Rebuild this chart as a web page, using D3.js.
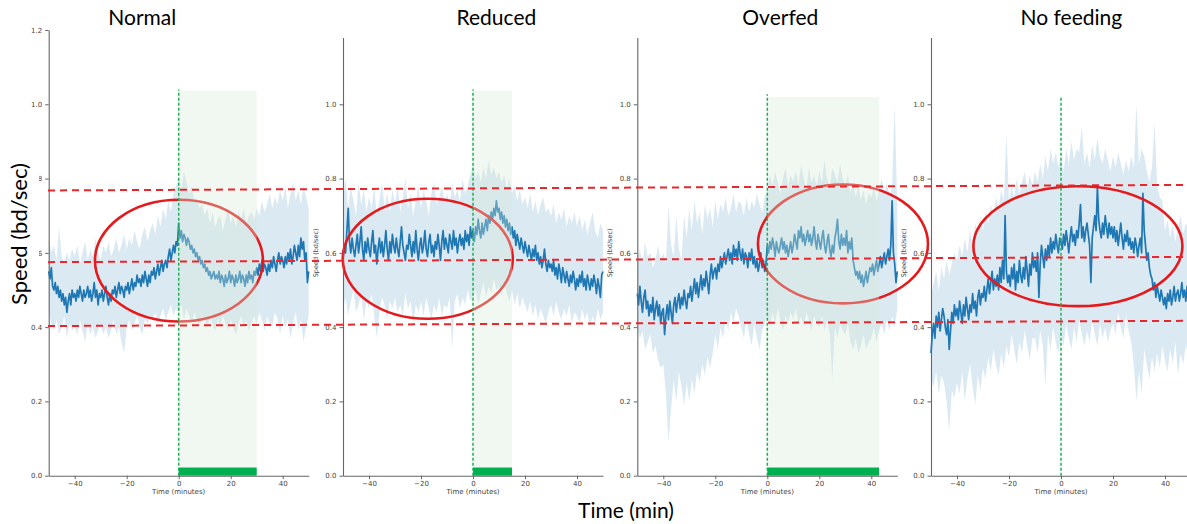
<!DOCTYPE html>
<html>
<head>
<meta charset="utf-8">
<script src="https://cdn.jsdelivr.net/npm/d3@7"></script>
<style>
body { margin: 0; background: #fff; }
svg { display: block; }
</style>
</head>
<body>
<svg id="chart" width="1187" height="524"></svg>
<script>
// panel titles and axis ticks
var panelTitles = ['Normal', 'Reduced', 'Overfed', 'No feeding'];
var titleAtT = [-14, 9, 5, 4];
var xTicks = [-40, -20, 0, 20, 40];
var yTicks = [0, 0.2, 0.4, 0.6, 0.8, 1.0, 1.2];

// time grid: mean every 0.5 min, band every 1 min, both from -50 min
var timeStart = -50;
var meanStep = 0.5;
var bandStep = 1;

// speed values in hundredths of bd/sec
var meanNormal = [
  55,53,56,51,50,52,49,51,48,50, 47,49,46,48,44,47,49,46,50,48,
  49,47,50,48,51,49,47,50,48,49, 51,48,50,47,49,52,48,50,46,49,
  48,50,47,49,51,48,46,49,47,50, 49,51,48,50,52,49,51,50,48,51,
  50,52,49,51,53,50,52,51,54,52, 53,51,54,52,55,53,51,54,52,55,
  54,56,53,55,57,54,56,58,55,57, 58,56,59,61,58,60,62,60,63,62,
  68,64,66,63,65,64,62,64,63,61, 62,60,61,59,60,58,59,57,58,56,
  57,55,56,54,55,53,54,55,53,54, 53,55,52,54,53,51,54,52,53,55,
  52,54,53,51,54,52,53,55,52,54, 53,51,54,52,55,53,54,52,55,54,
  56,54,57,55,58,55,57,56,54,57, 55,58,56,59,57,55,58,60,57,59,
  58,56,59,57,60,58,61,57,59,62, 60,58,62,59,64,61,63,58,60,52,
  55];
var hiNormal = [
  64,60,62,58,67,59,57,60,58,61, 59,62,57,60,63,58,61,59,64,60,
  58,62,60,63,59,61,64,60,62,65, 61,64,62,66,63,61,65,67,63,66,
  68,65,70,67,72,69,74,71,76,78, 80,77,82,79,76,78,74,75,72,73,
  70,72,68,71,67,69,70,66,69,72, 68,70,67,71,69,72,68,70,71,69,
  72,70,74,71,73,76,72,75,73,77, 74,78,72,76,79,74,77,73,78,75,
  72];
var loNormal = [
  44,41,39,42,38,40,43,37,41,39, 40,38,42,39,36,41,38,40,37,39,
  41,38,40,37,39,42,38,40,36,33, 40,42,39,41,43,40,38,42,41,43,
  42,44,41,43,45,42,44,46,43,45, 44,46,42,45,43,41,44,42,40,43,
  42,40,43,41,39,42,40,43,41,39, 42,40,38,41,43,40,42,39,41,43,
  41,44,42,39,43,41,40,44,42,38, 43,40,42,37,41,44,39,42,36,40,
  43];

var meanReduced = [
  58,62,60,66,72,63,60,64,61,59, 62,65,60,63,67,61,58,63,60,64,
  61,59,63,66,60,62,57,61,64,60, 63,59,62,66,61,58,63,60,65,62,
  60,64,61,59,63,67,62,60,58,62, 61,65,62,59,63,60,66,61,58,62,
  64,60,62,66,61,59,63,65,60,62, 59,63,61,65,62,58,63,66,61,64,
  62,60,65,63,61,66,62,64,60,63, 65,62,64,61,66,63,65,62,67,64,
  66,63,67,65,69,66,64,68,65,67, 69,66,70,68,71,69,72,70,74,71,
  72,69,71,68,70,67,69,66,68,65, 67,64,66,62,65,63,61,64,62,60,
  63,61,59,62,60,58,61,59,62,58, 60,57,59,56,58,61,57,55,58,56,
  57,55,58,54,56,53,57,55,52,56, 54,52,55,53,51,54,52,55,53,50,
  53,51,54,52,55,51,53,50,54,52, 50,53,51,54,52,49,53,51,48,54,
  55];
var hiReduced = [
  76,80,72,78,74,70,79,73,77,71, 75,72,78,70,74,79,72,76,71,77,
  73,78,71,75,80,72,76,70,74,78, 72,77,74,70,76,79,73,75,78,74,
  76,73,79,75,77,74,80,76,78,81, 84,80,82,79,83,80,85,81,83,80,
  82,79,81,77,80,76,78,74,77,73, 75,72,76,71,74,70,73,75,71,72,
  70,73,68,71,69,72,67,70,68,71, 67,70,66,69,65,68,71,66,64,68,
  66];
var loReduced = [
  45,48,43,47,50,44,46,49,42,47, 45,49,43,37,44,48,46,42,47,45,
  48,44,46,43,49,45,47,41,46,44, 47,43,48,45,42,46,44,48,43,46,
  45,48,34,47,49,45,48,46,50,47, 48,50,46,49,52,48,51,49,53,50,
  51,48,52,49,47,50,46,49,45,48, 46,44,47,43,46,42,45,43,41,44,
  46,43,47,44,42,45,43,46,41,44, 43,41,45,42,44,40,43,41,45,42,
  44];

var meanOverfed = [
  49,46,51,47,44,48,50,45,47,43, 46,44,48,42,45,47,43,46,41,44,
  45,38,43,46,42,47,44,41,46,48, 44,47,49,45,48,46,50,47,45,49,
  48,51,47,50,53,49,52,48,51,54, 50,53,51,55,52,49,54,57,53,55,
  56,53,57,55,59,56,58,60,57,59, 61,58,60,57,62,59,61,58,63,60,
  58,61,57,60,59,56,60,58,61,57, 59,56,58,55,57,60,56,58,55,57,
  62,60,63,61,64,62,59,63,61,60, 62,64,61,63,60,62,59,61,63,60,
  62,65,63,61,66,64,67,63,65,62, 64,66,63,65,62,64,67,63,61,65,
  63,61,64,66,62,60,63,65,61,59, 62,60,64,66,69,63,61,65,62,64,
  62,66,60,63,61,64,58,56,54,55, 53,55,52,54,51,53,55,52,54,56,
  55,57,54,56,58,55,57,59,56,58, 60,57,59,61,58,62,74,60,57,52,
  55];
var hiOverfed = [
  58,61,57,63,59,60,56,58,62,58, 60,57,73,62,59,70,61,58,70,64,
  72,66,74,68,71,65,73,69,72,67, 74,69,73,71,75,70,72,76,71,74,
  73,70,75,71,74,72,76,73,71,75, 77,81,78,82,79,76,80,83,78,81,
  79,82,78,84,80,77,83,79,81,78, 82,79,85,80,78,83,81,79,84,80,
  78,81,76,79,75,78,74,77,73,76, 75,78,74,77,80,76,79,75,78,100,
  72];
var loOverfed = [
  40,37,39,34,36,38,33,35,31,29, 30,22,9,18,26,20,28,24,19,25,
  20,26,22,28,25,30,27,32,29,33, 38,34,40,37,42,39,44,41,45,43,
  40,37,42,38,35,41,37,34,39,41, 43,40,44,41,45,42,39,43,41,44,
  42,45,41,43,40,44,42,39,43,41, 40,43,39,42,38,26,40,37,41,39,
  38,41,36,34,37,33,35,38,34,36, 37,40,36,39,41,38,42,39,43,40,
  45];

var meanNoFeeding = [
  33,38,41,37,43,40,44,39,42,45, 43,40,38,42,34,39,44,41,46,43,
  45,42,47,44,41,46,43,48,45,42, 46,44,49,45,47,43,48,50,46,49,
  48,51,47,50,53,49,52,55,50,53, 51,54,50,56,52,58,53,70,55,52,
  54,51,56,53,57,50,55,52,58,54, 52,56,53,59,55,51,57,54,60,56,
  58,55,60,48,57,62,59,56,61,58, 62,59,64,60,63,61,65,62,60,64,
  63,61,65,62,66,63,60,64,67,63, 65,62,66,64,68,73,64,67,63,66,
  68,65,62,52,64,67,70,66,78,69, 66,64,68,65,70,67,64,68,65,67,
  64,67,63,66,62,65,68,64,61,65, 63,66,62,64,61,63,60,64,62,59,
  62,64,60,76,66,62,58,60,56,54, 53,50,52,48,51,49,47,50,48,46,
  48,45,49,47,50,46,48,51,47,49, 50,47,49,52,48,50,47,51,49,48,
  50];
var hiNoFeeding = [
  48,52,55,50,56,53,58,54,57,60, 58,62,59,64,60,66,62,68,64,70,
  66,71,68,73,70,75,72,77,74,92, 74,78,75,80,76,79,82,77,81,78,
  82,79,84,80,86,82,88,84,87,83, 86,82,88,84,90,85,88,87,94,84,
  87,83,89,85,91,86,84,88,85,82, 86,83,87,84,81,85,82,86,83,100,
  84,88,86,82,79,83,95,78,75,74, 66,69,64,68,63,67,70,65,68,66,
  65];
var loNoFeeding = [
  26,24,28,22,27,25,20,12,23,21, 25,22,28,20,26,30,24,19,27,23,
  29,26,32,28,34,30,27,33,29,35, 32,38,34,30,36,33,39,35,31,37,
  37,33,39,35,24,38,34,40,36,33, 38,35,41,37,34,40,36,42,38,35,
  39,36,42,38,35,41,37,40,36,39, 41,38,44,40,37,43,39,36,30,20,
  28,22,34,30,26,32,28,33,29,35, 31,28,34,30,36,27,33,30,35,32,
  33];

// feeding window end (min), top of shaded window and top of the feeding line (bd/sec)
var feedEnd = [30, 15, 43, null];
var shadeTop = [1.037, 1.037, 1.02, null];
var feedLineTop = [1.04, 1.04, 1.027, 1.02];

// red annotations: dashed levels (left end, right end) and ellipses
var refLevels = [[0.768, 0.783], [0.575, 0.589], [0.403, 0.417]];
var ellipseCentreT = [0.1, -17.4, 29.1, 6.5];
var ellipseCentreV = [0.579, 0.584, 0.624, 0.618];
var ellipseRadiusT = [32.3, 32.7, 32.7, 40.2];
var ellipseRadiusV = [0.164, 0.1615, 0.16, 0.1615];

var panels = [
  {mean: meanNormal, hi: hiNormal, lo: loNormal},
  {mean: meanReduced, hi: hiReduced, lo: loReduced},
  {mean: meanOverfed, hi: hiOverfed, lo: loOverfed},
  {mean: meanNoFeeding, hi: hiNoFeeding, lo: loNoFeeding}
];

var width = 1187, height = 524;
var panelLeft = [48.7, 343, 637.3, 931];
var panelWidth = 260;
var plotBottom = 475.7, pxPerUnit = 371.4;
var tickFont = '"DejaVu Sans", sans-serif';
var bigFont = 'Lato, "Open Sans", sans-serif';

var svg = d3.select('#chart');
var dataLayer = svg.append('g');
var ellipseLayer = svg.append('g');
var shadeLayer = svg.append('g');
var axisLayer = svg.append('g');
var feedLayer = svg.append('g');
var refLayer = svg.append('g');
var textLayer = svg.append('g');

var scales = [];

panels.forEach(function(p, i) {
  var yMax = i === 0 ? 1.2 : 1.18;
  var x = d3.scaleLinear().domain([-50, 50]).range([panelLeft[i], panelLeft[i] + panelWidth]);
  var y = d3.scaleLinear().domain([0, yMax]).range([plotBottom, plotBottom - yMax * pxPerUnit]);
  scales.push({x: x, y: y});

  var band = p.hi.map(function(h, k) {
    return {t: timeStart + k * bandStep, hi: h / 100, lo: p.lo[k] / 100};
  });
  var mean = p.mean.map(function(m, k) {
    return {t: timeStart + k * meanStep, v: m / 100};
  });

  dataLayer.append('path')
    .datum(band)
    .attr('d', d3.area().x(function(d) { return x(d.t); })
      .y0(function(d) { return y(d.lo); })
      .y1(function(d) { return y(d.hi); }))
    .attr('fill', '#1f77b4')
    .attr('fill-opacity', 0.16);

  dataLayer.append('path')
    .datum(mean)
    .attr('d', d3.line().x(function(d) { return x(d.t); }).y(function(d) { return y(d.v); }))
    .attr('fill', 'none')
    .attr('stroke', '#1f77b4')
    .attr('stroke-width', 1.7)
    .attr('stroke-linejoin', 'round');

  // red ellipse
  ellipseLayer.append('ellipse')
    .attr('cx', x(ellipseCentreT[i]))
    .attr('cy', y(ellipseCentreV[i]))
    .attr('rx', x(ellipseRadiusT[i]) - x(0))
    .attr('ry', y(0) - y(ellipseRadiusV[i]))
    .attr('fill', 'none')
    .attr('stroke', '#e41a1c')
    .attr('stroke-width', 2.6);

  // feeding window
  if (feedEnd[i] !== null) {
    shadeLayer.append('rect')
      .attr('x', x(0))
      .attr('y', y(shadeTop[i]))
      .attr('width', x(feedEnd[i]) - x(0))
      .attr('height', y(0) - y(shadeTop[i]))
      .attr('fill', '#d8ecd8')
      .attr('fill-opacity', 0.35);

    feedLayer.append('rect')
      .attr('x', x(0))
      .attr('y', y(0.022))
      .attr('width', x(feedEnd[i]) - x(0))
      .attr('height', y(0) - y(0.022))
      .attr('fill', '#00b050');
  }

  feedLayer.append('line')
    .attr('x1', x(0)).attr('x2', x(0))
    .attr('y1', y(0)).attr('y2', y(feedLineTop[i]))
    .attr('stroke', '#1fae55')
    .attr('stroke-width', 1.5)
    .attr('stroke-dasharray', '3,2');

  // axes
  var gy = axisLayer.append('g')
    .attr('transform', 'translate(' + panelLeft[i] + ',0)')
    .call(d3.axisLeft(y)
      .tickValues(yTicks.filter(function(v) { return v <= yMax; }))
      .tickFormat(d3.format('.1f'))
      .tickSize(3.5)
      .tickSizeOuter(0));
  var gx = axisLayer.append('g')
    .attr('transform', 'translate(0,' + plotBottom + ')')
    .call(d3.axisBottom(x)
      .tickValues(xTicks)
      .tickFormat(function(d) { return d < 0 ? '\u2212' + Math.abs(d) : d; })
      .tickSize(3.5)
      .tickPadding(1.5)
      .tickSizeOuter(0));
  [gx, gy].forEach(function(g) {
    g.select('.domain').attr('stroke', '#666').attr('stroke-width', 1.1);
    g.selectAll('.tick line').attr('stroke', '#666');
    g.selectAll('.tick text')
      .attr('fill', '#444')
      .style('font-family', tickFont)
      .style('font-size', '7px');
  });

  axisLayer.append('text')
    .attr('x', x(0))
    .attr('y', plotBottom + 18.5)
    .attr('text-anchor', 'middle')
    .attr('fill', '#444')
    .style('font-family', tickFont)
    .style('font-size', '7px')
    .text('Time (minutes)');

  if (i > 0) {
    axisLayer.append('text')
      .attr('transform', 'translate(' + (panelLeft[i] - 25) + ',' + y(0.6) + ') rotate(-90)')
      .attr('text-anchor', 'middle')
      .attr('fill', '#444')
      .style('font-family', tickFont)
      .style('font-size', '6.5px')
      .text('Speed (bd/sec)');
  }

  textLayer.append('text')
    .attr('x', x(titleAtT[i]))
    .attr('y', 25)
    .attr('text-anchor', 'middle')
    .attr('fill', '#000')
    .style('font-family', bigFont)
    .style('font-size', '21px')
    .text(panelTitles[i]);
});

// figure-wide red dashed levels, in the shared speed scale
var yRef = scales[0].y;
refLevels.forEach(function(lv) {
  refLayer.append('line')
    .attr('x1', 48).attr('x2', width)
    .attr('y1', yRef(lv[0])).attr('y2', yRef(lv[1]))
    .attr('stroke', '#e8262b')
    .attr('stroke-width', 2)
    .attr('stroke-dasharray', '7,5');
});

// big shared axis labels
textLayer.append('rect')
  .attr('x', 0).attr('y', 145)
  .attr('width', 39).attr('height', 170)
  .attr('fill', '#fff');
textLayer.append('text')
  .attr('transform', 'translate(27,234) rotate(-90)')
  .attr('text-anchor', 'middle')
  .attr('fill', '#000')
  .style('font-family', bigFont)
  .style('font-size', '22px')
  .text('Speed (bd/sec)');
textLayer.append('text')
  .attr('x', 626)
  .attr('y', 518)
  .attr('text-anchor', 'middle')
  .attr('fill', '#000')
  .style('font-family', bigFont)
  .style('font-size', '21px')
  .text('Time (min)');
</script>
</body>
</html>
